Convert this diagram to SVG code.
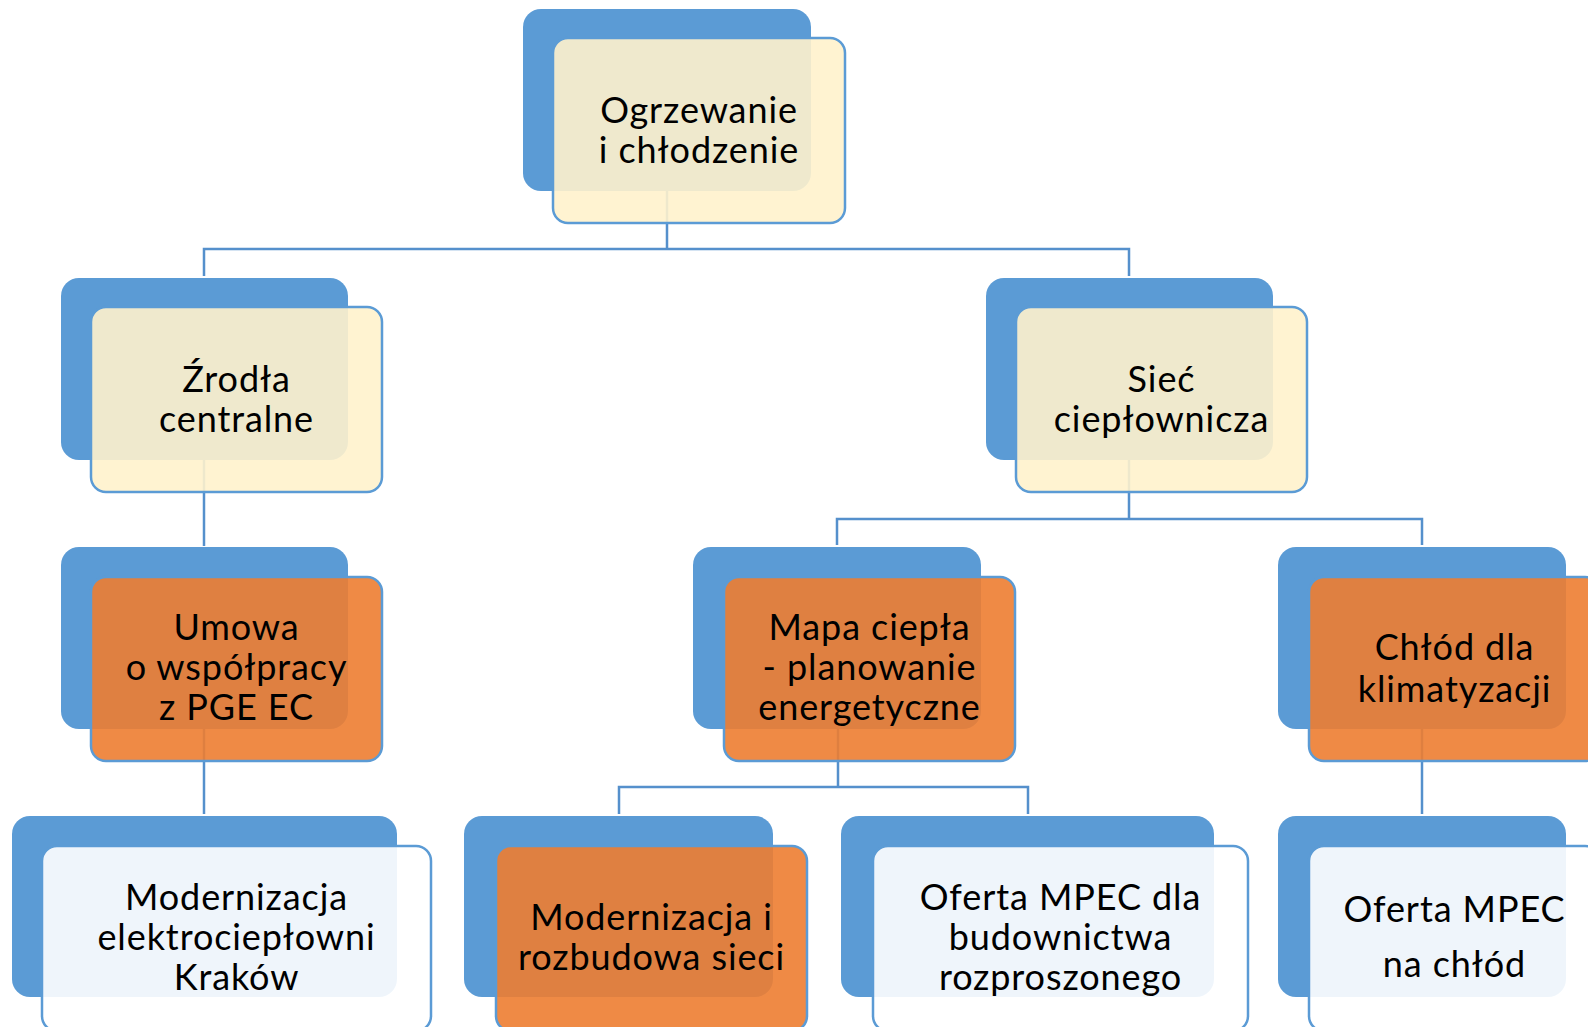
<svg xmlns="http://www.w3.org/2000/svg" width="1588" height="1027" viewBox="0 0 1588 1027">
<style>
.back{fill:#5B9BD5;}
.front{stroke:#5B9BD5;stroke-width:2.5;}
.cream{fill:#FFF2CC;fill-opacity:0.9;}
.orange{fill:#ED7D31;fill-opacity:0.9;}
.white{fill:#FFFFFF;fill-opacity:0.9;}
.conn{fill:none;stroke:#5590CC;stroke-width:2.5;}
text{font-family:Lato,"Liberation Sans",sans-serif;font-size:36px;letter-spacing:0.9px;fill:#000;text-anchor:middle;}
</style>
<rect width="1588" height="1027" fill="#fff"/>
<g id="connectors">
<path class="conn" d="M667 191 V249 M204 276 V249 H1129 V276"/>
<path class="conn" d="M204 460 V546"/>
<path class="conn" d="M1129 460 V519 M837 545 V519 H1422 V545"/>
<path class="conn" d="M204 729 V814"/>
<path class="conn" d="M838 729 V787 M619 814 V787 H1028 V814"/>
<path class="conn" d="M1422 729 V814"/>
</g>
<g id="node-ogrzewanie">
<rect class="back" x="523" y="9" width="288" height="182" rx="18"/>
<rect class="front cream" x="553" y="38" width="292" height="185" rx="15"/>
<text x="699" y="123">Ogrzewanie</text>
<text x="699" y="163">i chłodzenie</text>
</g>
<g id="node-zrodla">
<rect class="back" x="61" y="278" width="287" height="182" rx="18"/>
<rect class="front cream" x="91" y="307" width="291" height="185" rx="15"/>
<text x="236.5" y="392">Źrodła</text>
<text x="236.5" y="432">centralne</text>
</g>
<g id="node-siec">
<rect class="back" x="986" y="278" width="287" height="182" rx="18"/>
<rect class="front cream" x="1016" y="307" width="291" height="185" rx="15"/>
<text x="1161.5" y="392">Sieć</text>
<text x="1161.5" y="432">ciepłownicza</text>
</g>
<g id="node-umowa">
<rect class="back" x="61" y="547" width="287" height="182" rx="18"/>
<rect class="front orange" x="91" y="577" width="291" height="184" rx="15"/>
<text x="236.5" y="640">Umowa</text>
<text x="236.5" y="680">o współpracy</text>
<text x="236.5" y="720">z PGE EC</text>
</g>
<g id="node-mapa">
<rect class="back" x="693" y="547" width="288" height="182" rx="18"/>
<rect class="front orange" x="724" y="577" width="291" height="184" rx="15"/>
<text x="869.5" y="640">Mapa ciepła</text>
<text x="869.5" y="680">- planowanie</text>
<text x="869.5" y="720">energetyczne</text>
</g>
<g id="node-chlod">
<rect class="back" x="1278" y="547" width="288" height="182" rx="18"/>
<rect class="front orange" x="1309" y="577" width="291" height="184" rx="15"/>
<text x="1454.5" y="660">Chłód dla</text>
<text x="1454.5" y="702">klimatyzacji</text>
</g>
<g id="node-modernizacja-ec">
<rect class="back" x="12" y="816" width="385" height="181" rx="18"/>
<rect class="front white" x="42" y="846" width="389" height="185" rx="15"/>
<text x="236.5" y="910">Modernizacja</text>
<text x="236.5" y="950">elektrociepłowni</text>
<text x="236.5" y="990">Kraków</text>
</g>
<g id="node-modernizacja-sieci">
<rect class="back" x="464" y="816" width="309" height="181" rx="18"/>
<rect class="front orange" x="496" y="846" width="311" height="185" rx="15"/>
<text x="651.5" y="930">Modernizacja i</text>
<text x="651.5" y="970">rozbudowa sieci</text>
</g>
<g id="node-oferta-rozproszone">
<rect class="back" x="841" y="816" width="373" height="181" rx="18"/>
<rect class="front white" x="873" y="846" width="375" height="185" rx="15"/>
<text x="1060.5" y="910">Oferta MPEC dla</text>
<text x="1060.5" y="950">budownictwa</text>
<text x="1060.5" y="990">rozproszonego</text>
</g>
<g id="node-oferta-chlod">
<rect class="back" x="1278" y="816" width="288" height="181" rx="18"/>
<rect class="front white" x="1309" y="846" width="291" height="185" rx="15"/>
<text x="1454.5" y="922">Oferta MPEC</text>
<text x="1454.5" y="977">na chłód</text>
</g>
</svg>
